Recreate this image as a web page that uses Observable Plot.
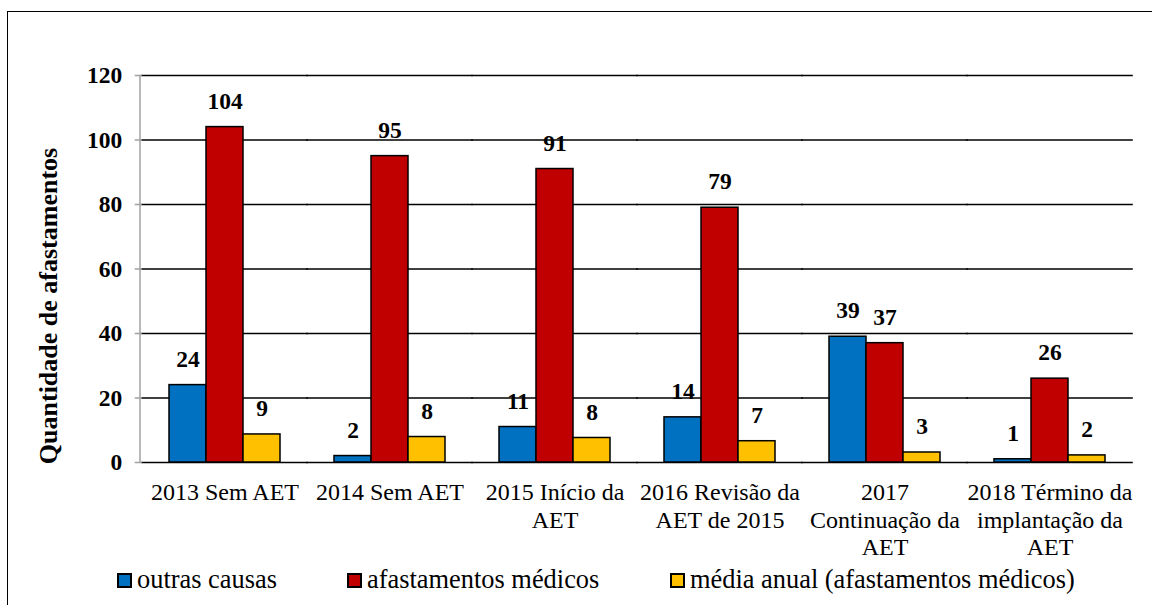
<!DOCTYPE html>
<html>
<head>
<meta charset="utf-8">
<script src="https://cdn.jsdelivr.net/npm/d3@7"></script>
<script src="https://cdn.jsdelivr.net/npm/@observablehq/plot@0.6"></script>
<style>
  html, body { margin: 0; padding: 0; background: #fff; }
  #wrap { position: relative; width: 1152px; height: 605px; overflow: hidden; font-family: "Liberation Serif", "Times New Roman", Times, serif; }
  #frame { position: absolute; left: 7px; top: 11px; width: 1200px; height: 700px; border-top: 1.5px solid #000; border-left: 1.5px solid #000; pointer-events: none; }
  #chart { position: absolute; left: 0; top: 0; }
  .sw { position: absolute; top: 573px; width: 15px; height: 15px; box-sizing: border-box; border: 2px solid #000; }
  .lt { position: absolute; top: 564px; font-size: 26.4px; line-height: 30px; color: #000; white-space: nowrap; }
</style>
</head>
<body>
<div id="wrap">
  <div id="chart"></div>
  <div id="frame"></div>
</div>
<script>
const categories = [
  "2013 Sem AET",
  "2014 Sem AET",
  "2015 Início da\nAET",
  "2016 Revisão da\nAET de 2015",
  "2017\nContinuação da\nAET",
  "2018 Término da\nimplantação da\nAET"
];
const seriesNames = ["outras causas", "afastamentos médicos", "média anual (afastamentos médicos)"];
const seriesColors = ["#0070C0", "#C00000", "#FFC000"];
const outrasCausas = [24, 2, 11, 14, 39, 1];
const afastamentosMedicos = [104, 95, 91, 79, 37, 26];
const mediaAnual = [8.7, 7.9, 7.6, 6.6, 3.1, 2.2];
const mediaAnualLabels = [9, 8, 8, 7, 3, 2];
const yTicks = [0, 20, 40, 60, 80, 100, 120];
const yLabel = "Quantidade de afastamentos";

const rows = [];
categories.forEach((c, i) => {
  rows.push({cat: c, series: seriesNames[0], value: outrasCausas[i], label: String(outrasCausas[i])});
  rows.push({cat: c, series: seriesNames[1], value: afastamentosMedicos[i], label: String(afastamentosMedicos[i])});
  rows.push({cat: c, series: seriesNames[2], value: mediaAnual[i], label: String(mediaAnualLabels[i])});
});

const font = '"Liberation Serif", "Times New Roman", Times, serif';
const W = 1152, H = 560, mL = 140, mR = 19, mT = 75, mB = 98;
const pIn = 0.33, pOut = 0.165;
const step = (W - mL - mR) / (categories.length - pIn + 2 * pOut);
const outerGap = pOut * step;
const halfInner = pIn * step / 2;

const chart = Plot.plot({
  width: W,
  height: H,
  marginTop: mT,
  marginBottom: mB,
  marginLeft: mL,
  marginRight: mR,
  style: {fontFamily: font, background: "transparent", color: "#000"},
  fx: {domain: categories, paddingInner: pIn, paddingOuter: pOut, axis: null},
  x: {domain: seriesNames, padding: 0, axis: null},
  y: {domain: [0, 120], axis: null},
  color: {domain: seriesNames, range: seriesColors},
  marks: [
    Plot.ruleY(yTicks, {stroke: "#000", strokeWidth: 1.5, insetLeft: -halfInner - 0.5, insetRight: -halfInner - 0.5}),
    Plot.barY(rows, {fx: "cat", x: "series", y: "value", fill: "series", stroke: "#000", strokeWidth: 1.5}),
    Plot.text(rows, {fx: "cat", x: "series", y: "value", text: "label", dy: -26, lineAnchor: "middle", fontSize: 23.5, fontWeight: "bold", fill: "#000", fontFamily: font}),
    Plot.axisFx({anchor: "bottom", tickSize: 0, tickPadding: 18, fontSize: 24, lineHeight: 1.15, lineAnchor: "top", label: null, fill: "#000", fontFamily: font}),
    Plot.axisY({ticks: yTicks, tickSize: 7, tickPadding: 13, dx: -outerGap, fontSize: 23.5, fontWeight: "bold", stroke: "#a0a0a0", strokeWidth: 1.5, label: null, fill: "#000", fontFamily: font}),
  ]
});
document.getElementById("chart").appendChild(chart);

const svg = d3.select(chart);
// left axis line
const yScale = chart.scale("y");
svg.append("line")
  .attr("x1", mL).attr("x2", mL)
  .attr("y1", yScale.apply(120)).attr("y2", yScale.apply(0))
  .attr("stroke", "#a0a0a0").attr("stroke-width", 1.5);
// y-axis title
svg.append("text")
  .attr("transform", "translate(57,306) rotate(-90)")
  .attr("text-anchor", "middle")
  .attr("font-family", font)
  .attr("font-size", 26)
  .attr("font-weight", "bold")
  .attr("fill", "#000")
  .text(yLabel);

const wrap = document.getElementById("wrap");
const legendLeft = [117, 347, 670];
seriesNames.forEach((s, i) => {
  const sw = document.createElement("div");
  sw.className = "sw";
  sw.style.left = legendLeft[i] + "px";
  sw.style.background = seriesColors[i];
  const t = document.createElement("span");
  t.className = "lt";
  t.style.left = (legendLeft[i] + 20) + "px";
  t.textContent = s;
  wrap.appendChild(sw);
  wrap.appendChild(t);
});
</script>
</body>
</html>
